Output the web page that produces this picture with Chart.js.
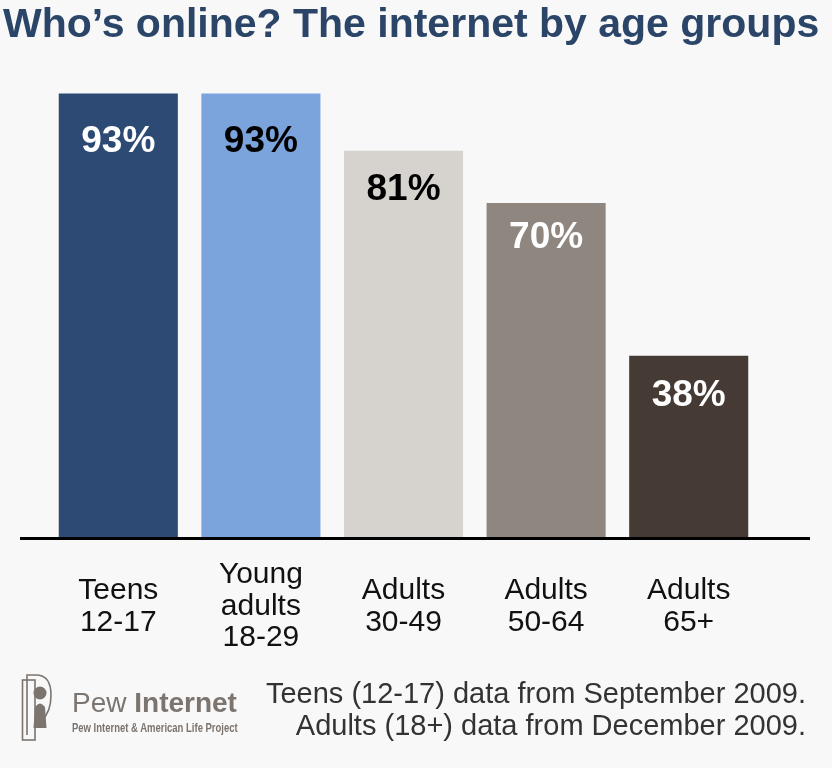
<!DOCTYPE html>
<html>
<head>
<meta charset="utf-8">
<script src="https://cdn.jsdelivr.net/npm/chart.js@4/dist/chart.umd.min.js"></script>
<style>
  body { margin: 0; background: #f8f8f8; font-family: "Liberation Sans", Arial, sans-serif; }
  #page { position: relative; width: 832px; height: 768px; overflow: hidden; }
  #title { position: absolute; left: 3px; top: 3px; font-size: 41px; line-height: 41px; font-weight: bold; color: #2b4568; white-space: nowrap; }
  #wrap { position: absolute; left: 0; top: 0; width: 832px; height: 680px; }
  #note { position: absolute; right: 26px; top: 677px; font-size: 29px; line-height: 32px; color: #333; text-align: right; white-space: nowrap; }
  #logo { position: absolute; left: 10px; top: 665px; width: 240px; height: 80px; color: #7b746f; }
  #logo svg { position: absolute; left: 0; top: 0; }
  #logoName { position: absolute; left: 62px; top: 24px; font-size: 28px; line-height: 28px; white-space: nowrap; }
  #logoSub { position: absolute; left: 62px; top: 57px; font-size: 12px; line-height: 12px; font-weight: bold; white-space: nowrap; transform-origin: left top; }
</style>
</head>
<body>
<div id="page">
  <div id="wrap"><canvas id="chart"></canvas></div>
  <div id="title">Who’s online? The internet by age groups</div>
  <div id="logo">
    <svg width="60" height="80" viewBox="0 0 60 80">
      <g fill="none" stroke="#7b746f" stroke-width="1.6">
        <rect x="12.5" y="15" width="12.5" height="60"/>
        <path d="M17 70 L17 10 L26 10 Q41 10 41 30 Q41 47 32 55"/>
      </g>
      <circle cx="30" cy="28" r="6.5" fill="#7b746f"/>
      <path d="M23.5 63 L25 42 Q30 35 35 42 L36.5 63 Z" fill="#7b746f"/>
    </svg>
    <div id="logoName">Pew <b>Internet</b></div>
    <div id="logoSub">Pew Internet &amp; American Life Project</div>
  </div>
  <div id="note">Teens (12-17) data from September 2009.<br>Adults (18+) data from December 2009.</div>
</div>
<script>
const categories = [
  ['Teens', '12-17'],
  ['Young', 'adults', '18-29'],
  ['Adults', '30-49'],
  ['Adults', '50-64'],
  ['Adults', '65+']
];
const onlinePct = [93, 93, 81, 70, 38];
const valueLabels = ['93%', '93%', '81%', '70%', '38%'];

const barColors = ['#2c4a73', '#7ba3dc', '#d6d2cd', '#8e867f', '#463b34'];
const labelColors = ['#ffffff', '#000000', '#000000', '#ffffff', '#ffffff'];
// how far below the bar top each label sits (as in the slide)
const labelDrop = [48, 48, 39, 35, 40];

// squeeze the small logo line to the width of the logo name
const sub = document.getElementById('logoSub');
sub.style.transform = 'scaleX(' + (166 / sub.offsetWidth) + ')';

// percent labels inside bars + long black baseline
const barText = {
  id: 'barText',
  afterDatasetsDraw(chart) {
    const ctx = chart.ctx;
    const bars = chart.getDatasetMeta(0).data;
    ctx.save();
    ctx.font = 'bold 37px "Liberation Sans", Arial, sans-serif';
    ctx.textAlign = 'center';
    ctx.textBaseline = 'middle';
    bars.forEach((bar, i) => {
      ctx.fillStyle = labelColors[i];
      ctx.fillText(valueLabels[i], bar.x, bar.y + labelDrop[i]);
    });
    const y0 = chart.scales.y.getPixelForValue(0);
    ctx.strokeStyle = '#000';
    ctx.lineWidth = 3;
    ctx.beginPath();
    ctx.moveTo(20, y0 + 1.5);
    ctx.lineTo(810, y0 + 1.5);
    ctx.stroke();
    ctx.restore();
  }
};

new Chart(document.getElementById('chart'), {
  type: 'bar',
  data: {
    labels: categories,
    datasets: [{
      data: onlinePct,
      backgroundColor: barColors,
      borderWidth: 0,
      categoryPercentage: 1,
      barPercentage: 0.835
    }]
  },
  options: {
    responsive: true,
    maintainAspectRatio: false,
    animation: false,
    layout: { padding: { left: 47, right: 72, top: 60, bottom: 0 } },
    plugins: { legend: { display: false }, tooltip: { enabled: false } },
    scales: {
      x: {
        grid: { display: false },
        border: { display: false },
        ticks: {
          color: '#111',
          padding: 30,
          crossAlign: 'center',
          maxRotation: 0,
          autoSkip: false,
          font: { family: '"Liberation Sans", Arial, sans-serif', size: 30, lineHeight: 1.05 }
        },
        afterFit: (scale) => { scale.height = 143; }
      },
      y: {
        display: false,
        min: 0,
        max: 100
      }
    }
  },
  plugins: [barText]
});
</script>
</body>
</html>
